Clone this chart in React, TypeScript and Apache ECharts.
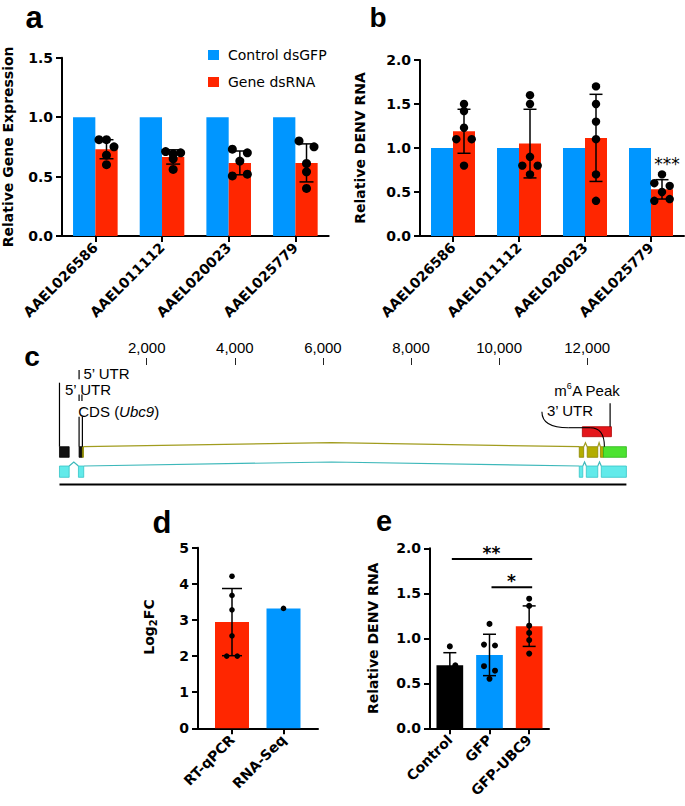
import React, { useEffect, useRef } from 'react';
import * as echarts from 'echarts';

// ---------- data ----------
// panel a
const genesAB = ['AAEL026586', 'AAEL011112', 'AAEL020023', 'AAEL025779'];
const seriesNames = ['Control dsGFP', 'Gene dsRNA'];
const aControl = [1, 1, 1, 1];
const aGeneMean = [0.73, 0.665, 0.615, 0.615];
const aGeneSD = [0.08, 0.06, 0.1, 0.16];
// [category, value, beeswarm column]
const aGeneDots = [
  [0, 0.81, -1], [0, 0.81, 0], [0, 0.75, 1], [0, 0.68, 0], [0, 0.6, 0],
  [1, 0.71, -1], [1, 0.69, 0], [1, 0.7, 1], [1, 0.65, 0], [1, 0.56, 0],
  [2, 0.73, -1], [2, 0.7, 1], [2, 0.63, 0], [2, 0.505, -1], [2, 0.52, 1],
  [3, 0.8, -1], [3, 0.75, 1], [3, 0.61, 0], [3, 0.54, 0], [3, 0.4, 0],
];

// panel b
const bControl = [1, 1, 1, 1];
const bGeneMean = [1.19, 1.05, 1.115, 0.53];
const bGeneSD = [0.25, 0.39, 0.495, 0.11];
const bGeneDots = [
  [0, 1.5, 0], [0, 1.42, 0], [0, 1.23, 0], [0, 1.1, -1], [0, 1.1, 1], [0, 0.8, 0],
  [1, 1.6, 0], [1, 1.5, 0], [1, 0.9, 0], [1, 0.8, -1], [1, 0.8, 1], [1, 0.7, 0],
  [2, 1.7, 0], [2, 1.5, 0], [2, 1.3, 0], [2, 1.1, 0], [2, 0.7, 0], [2, 0.4, 0],
  [3, 0.7, 0], [3, 0.6, -1], [3, 0.57, 1], [3, 0.5, 0], [3, 0.4, -1], [3, 0.42, 1],
];
const bStars = [[3, 0.82]];
const bStarLabels = ['***'];

// panel c (gene model, positions in nt; rows in schematic units)
const cExonsA = [[20, 240], [465, 540], [540, 565], [11820, 11920], [12000, 12240], [12300, 12370], [12370, 12890]];
const cExonKindsA = ['nc', 'nc', 'cds', 'cds', 'cds', 'cds', 'utr3'];
const cIntronsA = [[565, 11820], [11920, 12000], [12240, 12300]];
const cExonsB = [[20, 240], [450, 570], [11820, 11900], [11980, 12240], [12320, 12890]];
const cIntronsB = [[240, 450], [570, 11820], [11900, 11980], [12240, 12320]];
const cTrackRows = [[8.17, 9.23], [10.1, 11.23]];
const cPeak = [[11890, 12550, 6.17, 7.17]];
const cRuler = [[20, 12890, 11.95]];
const cLeaders = [
  [[20, 1.77], [20, 8.17]],
  [[465, 0.5], [465, 1.43]],
  [[465, 2.95], [465, 3.6]],
  [[530, 2.95], [530, 3.6]],
  [[465, 5.17], [465, 8.17]],
  [[540, 5.17], [540, 8.17]],
  [[12520, 3.83], [12520, 6.17]],
];
const cUtr3Curve = [[10972, 4.67], [11571, 6.27], [12070, 6.27], [12391, 8.17]];
const cLabelTexts = ['5’ UTR', '5’ UTR', '{n|CDS (}{i|Ubc9}{n|)}', '{n|m}{s|6}{n|A Peak}', '3’ UTR'];
const cLabelAnchors = [[565, 0.83], [145, 2.45], [447, 4.6], [12000, 2.5], [11610, 4.5]];
const cLabelAligns = ['left', 'left', 'left', 'center', 'center'];

// panel d
const dCats = ['RT-qPCR', 'RNA-Seq'];
const dMeans = [2.94, 3.32];
const dSD = [0.93, 0];
const dDots = [[0, 4.21, 0], [0, 3.68, 0], [0, 3.28, 0], [0, 2.56, 0], [0, 2.0, -1], [0, 2.0, 1], [1, 3.32, 0]];

// panel e
const eCats = ['Control', 'GFP', 'GFP-UBC9'];
const eMeans = [0.7, 0.815, 1.135];
const eSD = [0.14, 0.23, 0.225];
const eDots = [
  [0, 0.91, 0], [0, 0.7, 1], [0, 0.56, -1],
  [1, 1.16, 0], [1, 0.93, -1], [1, 0.92, 1], [1, 0.69, -1], [1, 0.64, 1], [1, 0.55, 0],
  [2, 1.44, 0], [2, 1.36, 0], [2, 1.14, 0], [2, 1.06, 0], [2, 0.98, 0], [2, 0.83, 0],
];
const eSigPairs = [[0, 2, 1.88], [1, 2, 1.567]];
const eSigLabels = ['**', '*'];

// ---------- styles ----------
const BLUE = '#0096FF';
const RED = '#FF2600';
const BOLD = "'DejaVu Sans', sans-serif";
const ARIAL = "'Liberation Sans', Arial, sans-serif";
const EXON_FILL: any = { nc: '#111111', cds: '#B3AD00', utr3: '#4CE330' };
const EXON_STROKE: any = { nc: '#000000', cds: '#8A8500', utr3: '#2FB51C' };

const axisLine = { show: true, onZero: false, lineStyle: { color: '#000', width: 2 } };
const axisTick = { show: true, length: 6, alignWithLabel: true, lineStyle: { color: '#000', width: 2 } };
const labelBold = { color: '#000', fontFamily: BOLD, fontWeight: 'bold', fontSize: 14 };
const nameStyle = { color: '#000', fontFamily: BOLD, fontWeight: 'bold', fontSize: 14 };

function catX(grid: number, cats: string[]) {
  return {
    type: 'category', gridIndex: grid, data: cats,
    axisLine, axisTick,
    axisLabel: { ...labelBold, rotate: 45, interval: 0, margin: 9 },
    splitLine: { show: false },
  };
}
function valY(grid: number, max: number, interval: number, name: string, gap: number, dec: number, extra: any = {}) {
  return {
    type: 'value', gridIndex: grid, min: 0, max, interval,
    axisLine, axisTick: { show: true, length: 6, lineStyle: { color: '#000', width: 2 } },
    axisLabel: { ...labelBold, margin: 9, formatter: (v: number) => v.toFixed(dec) },
    splitLine: { show: false },
    name, nameLocation: 'middle', nameGap: gap, nameTextStyle: { ...nameStyle, ...extra },
  };
}

function dotSeries(xi: number, data: number[][], shift: number, spacing: number, r: number) {
  return {
    type: 'custom', xAxisIndex: xi, yAxisIndex: xi, clip: false, silent: true, z: 6,
    data,
    renderItem: (_p: any, api: any) => {
      const p = api.coord([api.value(0), api.value(1)]);
      return { type: 'circle', shape: { cx: p[0] + shift + api.value(2) * spacing, cy: p[1], r }, style: { fill: '#000' } };
    },
  };
}
function errSeries(xi: number, means: number[], sds: number[], shift: number, cap: number) {
  return {
    type: 'custom', xAxisIndex: xi, yAxisIndex: xi, clip: false, silent: true, z: 5,
    data: means.map((m, i) => [i, m, sds[i]]).filter((d) => d[2] > 0),
    renderItem: (_p: any, api: any) => {
      const i = api.value(0), m = api.value(1), s = api.value(2);
      const t = api.coord([i, m + s]);
      const b = api.coord([i, m - s]);
      const x = t[0] + shift;
      const st = { stroke: '#000', lineWidth: 1.5 };
      return {
        type: 'group', children: [
          { type: 'line', shape: { x1: x, y1: t[1], x2: x, y2: b[1] }, style: st },
          { type: 'line', shape: { x1: x - cap / 2, y1: t[1], x2: x + cap / 2, y2: t[1] }, style: st },
          { type: 'line', shape: { x1: x - cap / 2, y1: b[1], x2: x + cap / 2, y2: b[1] }, style: st },
        ],
      };
    },
  };
}
function barPair(xi: number, ctrl: number[], gene: number[], w: number) {
  return [
    { type: 'bar', name: seriesNames[0], xAxisIndex: xi, yAxisIndex: xi, data: ctrl, barWidth: w, barGap: '0%', itemStyle: { color: BLUE }, silent: true },
    { type: 'bar', name: seriesNames[1], xAxisIndex: xi, yAxisIndex: xi, data: gene, barWidth: w, barGap: '0%', itemStyle: { color: RED }, silent: true },
  ];
}

// panel c helpers
function cSeries(data: any[], render: (idx: number, api: any) => any, z = 3) {
  return {
    type: 'custom', xAxisIndex: 2, yAxisIndex: 2, clip: false, silent: true, z,
    data: data.map((_d, i) => [i]),
    renderItem: (p: any, api: any) => render(p.dataIndex, api),
  };
}
function exonRect(api: any, s: number, e: number, rows: number[], fill: string, stroke: string) {
  const a = api.coord([s, rows[0]]);
  const b = api.coord([e, rows[1]]);
  return { type: 'rect', shape: { x: a[0], y: a[1], width: b[0] - a[0], height: b[1] - a[1] }, style: { fill, stroke, lineWidth: 0.8 } };
}
function intronHat(api: any, s: number, e: number, row: number, color: string) {
  const a = api.coord([s, row]);
  const b = api.coord([e, row]);
  return { type: 'polyline', shape: { points: [a, [(a[0] + b[0]) / 2, a[1] - 4], b] }, style: { stroke: color, lineWidth: 1.2, fill: null } };
}

const option: any = {
  animation: false,
  backgroundColor: '#fff',
  textStyle: { fontFamily: BOLD },
  legend: {
    data: seriesNames, left: 203, top: 43, orient: 'vertical', itemWidth: 11, itemHeight: 10, itemGap: 13,
    icon: 'rect', selectedMode: false,
    textStyle: { fontFamily: BOLD, fontSize: 14, color: '#000', padding: [0, 0, 0, 4] },
  },
  grid: [
    { left: 62, top: 57.7, width: 266.7, height: 178.3 },
    { left: 420, top: 60, width: 264, height: 176 },
    { left: 146.7, top: 365, width: 440.5, height: 120 },
    { left: 198, top: 547.7, width: 120, height: 180.6 },
    { left: 206.25, top: 547.7, width: 103, height: 180.6 },
    { left: 430, top: 548.3, width: 119, height: 180 },
  ],
  xAxis: [
    catX(0, genesAB),
    catX(1, genesAB),
    {
      type: 'value', gridIndex: 2, position: 'top', min: 2000, max: 12000, interval: 2000,
      axisLine: { show: false, onZero: false },
      axisTick: { show: true, length: 7, lineStyle: { color: '#222', width: 1 } },
      axisLabel: { color: '#000', fontFamily: ARIAL, fontSize: 15, margin: 10, formatter: (v: number) => v.toLocaleString('en-US') },
      splitLine: { show: false },
    },
    { type: 'value', gridIndex: 3, min: 0, max: 1, axisLine, axisTick: { show: false }, axisLabel: { show: false }, splitLine: { show: false } },
    { ...catX(4, dCats), axisLine: { show: false, onZero: false } },
    catX(5, eCats),
  ],
  yAxis: [
    valY(0, 1.5, 0.5, 'Relative Gene Expression', 47, 1),
    valY(1, 2, 0.5, 'Relative DENV RNA', 53, 1),
    { type: 'value', gridIndex: 2, min: 0, max: 12, inverse: true, show: false },
    valY(3, 5, 1, '{n|Log}{s|2}{n|FC}', 40, 0, {
      padding: [0, 0, 0, 22],
      rich: {
        n: { fontFamily: BOLD, fontWeight: 'bold', fontSize: 14, color: '#000' },
        s: { fontFamily: BOLD, fontWeight: 'bold', fontSize: 10, color: '#000', padding: [8, 0, 0, 0] },
      },
    }),
    { type: 'value', gridIndex: 4, min: 0, max: 5, show: false },
    valY(5, 2, 0.5, 'Relative DENV RNA', 50, 1),
  ],
  series: [
    // a
    ...barPair(0, aControl, aGeneMean, 22.3),
    errSeries(0, aGeneMean, aGeneSD, 11.15, 14),
    dotSeries(0, aGeneDots, 11.15, 7.5, 4.5),
    // b
    ...barPair(1, bControl, bGeneMean, 22),
    errSeries(1, bGeneMean, bGeneSD, 11, 13),
    dotSeries(1, bGeneDots, 11, 7.7, 4.2),
    {
      type: 'custom', xAxisIndex: 1, yAxisIndex: 1, clip: false, silent: true, z: 7,
      data: bStars,
      renderItem: (p: any, api: any) => {
        const c = api.coord([api.value(0), api.value(1)]);
        return { type: 'text', x: c[0] + 16, y: c[1], style: { text: bStarLabels[p.dataIndex], fontFamily: BOLD, fontSize: 17, fill: '#000', align: 'center', verticalAlign: 'middle' } };
      },
    },
    // c
    cSeries(cIntronsA, (i, api) => intronHat(api, cIntronsA[i][0], cIntronsA[i][1], cTrackRows[0][0], '#A19C1E'), 2),
    cSeries(cIntronsB, (i, api) => intronHat(api, cIntronsB[i][0], cIntronsB[i][1], cTrackRows[1][0], '#3DB8BA'), 2),
    cSeries(cExonsA, (i, api) => exonRect(api, cExonsA[i][0], cExonsA[i][1], cTrackRows[0], EXON_FILL[cExonKindsA[i]], EXON_STROKE[cExonKindsA[i]]), 3),
    cSeries(cExonsB, (i, api) => exonRect(api, cExonsB[i][0], cExonsB[i][1], cTrackRows[1], '#62EAEA', '#35C4C7'), 3),
    cSeries(cPeak, (i, api) => exonRect(api, cPeak[i][0], cPeak[i][1], [cPeak[i][2], cPeak[i][3]], '#E4161B', '#B00000'), 3),
    cSeries(cRuler, (i, api) => {
      const a = api.coord([cRuler[i][0], cRuler[i][2]]);
      const b = api.coord([cRuler[i][1], cRuler[i][2]]);
      return { type: 'line', shape: { x1: a[0], y1: a[1], x2: b[0], y2: b[1] }, style: { stroke: '#000', lineWidth: 2 } };
    }),
    cSeries(cLeaders, (i, api) => ({
      type: 'polyline', shape: { points: cLeaders[i].map((pt) => api.coord(pt)) }, style: { stroke: '#000', lineWidth: 1.2, fill: null },
    }), 4),
    cSeries([0], (_i, api) => {
      const p = cUtr3Curve.map((pt) => api.coord(pt));
      const st = { stroke: '#000', lineWidth: 1.1, fill: null };
      return {
        type: 'group', children: [
          { type: 'bezierCurve', shape: { x1: p[0][0], y1: p[0][1], cpx1: p[0][0], cpy1: p[1][1], x2: p[1][0], y2: p[1][1] }, style: st },
          { type: 'line', shape: { x1: p[1][0], y1: p[1][1], x2: p[2][0], y2: p[2][1] }, style: st },
          { type: 'bezierCurve', shape: { x1: p[2][0], y1: p[2][1], cpx1: p[3][0], cpy1: p[2][1], x2: p[3][0], y2: p[3][1] }, style: st },
        ],
      };
    }, 4),
    cSeries(cLabelTexts, (i, api) => {
      const c = api.coord(cLabelAnchors[i]);
      return {
        type: 'text', x: c[0], y: c[1],
        style: {
          text: cLabelTexts[i], fontFamily: ARIAL, fontSize: 15, fill: '#000', align: cLabelAligns[i], verticalAlign: 'middle',
          rich: {
            n: { fontFamily: ARIAL, fontSize: 15, color: '#000', lineHeight: 17 },
            i: { fontFamily: ARIAL, fontSize: 15, fontStyle: 'italic', color: '#000', lineHeight: 17 },
            s: { fontFamily: ARIAL, fontSize: 9, color: '#000', lineHeight: 17, verticalAlign: 'top', padding: [0, 0, 6, 0] },
          },
        },
      };
    }, 5),
    // d
    {
      type: 'bar', xAxisIndex: 4, yAxisIndex: 4, barWidth: 34, silent: true,
      data: dMeans.map((v, i) => ({ value: v, itemStyle: { color: [RED, BLUE][i] } })),
    },
    { ...errSeries(4, dMeans, dSD, 0, 20), yAxisIndex: 4 },
    { ...dotSeries(4, dDots, 0, 5.3, 2.8), yAxisIndex: 4 },
    // e
    {
      type: 'bar', xAxisIndex: 5, yAxisIndex: 5, barWidth: 26.7, silent: true,
      data: eMeans.map((v, i) => ({ value: v, itemStyle: { color: ['#000000', BLUE, RED][i] } })),
    },
    errSeries(5, eMeans, eSD, 0, 13),
    dotSeries(5, eDots, 0, 5.5, 3),
    {
      type: 'custom', xAxisIndex: 5, yAxisIndex: 5, clip: false, silent: true, z: 7,
      data: eSigPairs,
      renderItem: (p: any, api: any) => {
        const a = api.coord([api.value(0), api.value(2)]);
        const b = api.coord([api.value(1), api.value(2)]);
        return {
          type: 'group', children: [
            { type: 'line', shape: { x1: a[0] + 2, y1: a[1], x2: b[0] + 3, y2: b[1] }, style: { stroke: '#000', lineWidth: 2 } },
            { type: 'text', x: (a[0] + b[0]) / 2 + 2, y: a[1] - 6, style: { text: eSigLabels[p.dataIndex], fontFamily: BOLD, fontWeight: 'bold', fontSize: 17, fill: '#000', align: 'center', verticalAlign: 'middle' } },
          ],
        };
      },
    },
  ],
  graphic: [
    { type: 'text', x: 34, y: 17, style: { text: 'a', fontFamily: ARIAL, fontWeight: 'bold', fontSize: 31, fill: '#000', align: 'center', verticalAlign: 'middle' } },
    { type: 'text', x: 378, y: 17, style: { text: 'b', fontFamily: ARIAL, fontWeight: 'bold', fontSize: 28, fill: '#000', align: 'center', verticalAlign: 'middle' } },
    { type: 'text', x: 32, y: 356, style: { text: 'c', fontFamily: ARIAL, fontWeight: 'bold', fontSize: 28, fill: '#000', align: 'center', verticalAlign: 'middle' } },
    { type: 'text', x: 162, y: 522, style: { text: 'd', fontFamily: ARIAL, fontWeight: 'bold', fontSize: 31, fill: '#000', align: 'center', verticalAlign: 'middle' } },
    { type: 'text', x: 384, y: 521, style: { text: 'e', fontFamily: ARIAL, fontWeight: 'bold', fontSize: 29, fill: '#000', align: 'center', verticalAlign: 'middle' } },
  ],
};

export default function App() {
  const ref = useRef<HTMLDivElement>(null);
  useEffect(() => {
    const chart = echarts.init(ref.current as HTMLDivElement, null, { renderer: 'svg' });
    chart.setOption(option);
    return () => chart.dispose();
  }, []);
  return <div ref={ref} style={{ position: 'absolute', left: 0, top: 0, width: 685, height: 806, background: '#fff' }} />;
}
